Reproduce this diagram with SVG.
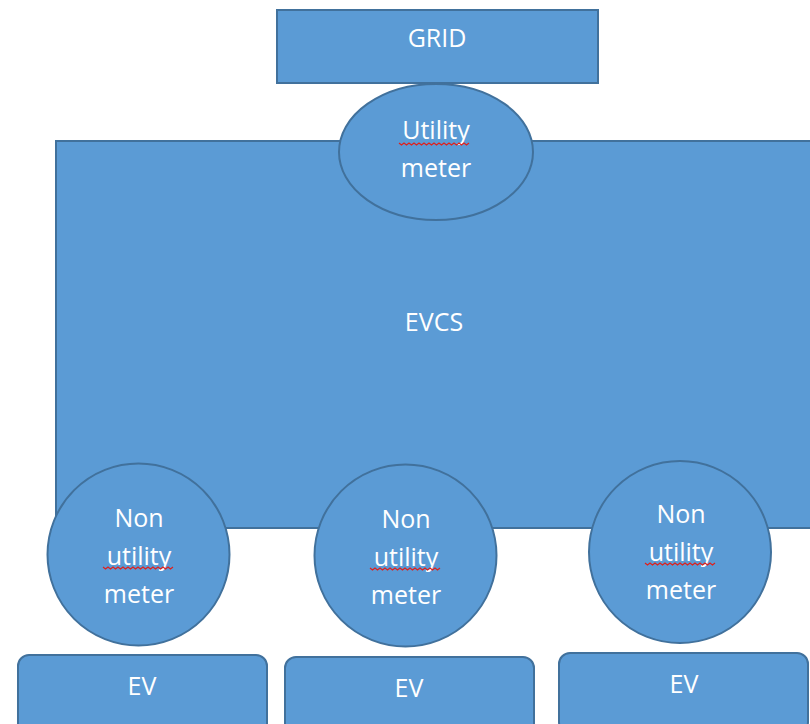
<svg xmlns="http://www.w3.org/2000/svg" width="810" height="724" viewBox="0 0 810 724">
<style>
.shape{fill:#5B9BD5;stroke:#41719C;stroke-width:2}
.lbl{font-family:"Open Sans","Liberation Sans",sans-serif;font-size:25px;fill:#FFFFFF;text-anchor:middle}
.spell{fill:none;stroke:#E0201B;stroke-width:1.2}
</style>
<rect width="810" height="724" fill="#FFFFFF"/>
<g id="evcs">
<rect class="shape" x="56" y="141" width="770" height="387"/>
<text class="lbl" x="434" y="331">EVCS</text>
</g>
<g id="grid">
<rect class="shape" x="277" y="10" width="321" height="73"/>
<text class="lbl" x="437" y="47">GRID</text>
</g>
<g id="utility-meter">
<ellipse class="shape" cx="436" cy="152" rx="97" ry="68"/>
<text class="lbl" x="436" y="139">Utility</text>
<text class="lbl" x="436" y="177">meter</text>
<path class="spell" d="M399 143 l2.5 2 l2.5 -2 l2.5 2 l2.5 -2 l2.5 2 l2.5 -2 l2.5 2 l2.5 -2 l2.5 2 l2.5 -2 l2.5 2 l2.5 -2 l2.5 2 l2.5 -2 l2.5 2 l2.5 -2 l2.5 2 l2.5 -2 l2.5 2 l2.5 -2 l2.5 2 l2.5 -2 l2.5 2 l2.5 -2 l2.5 2 l2.5 -2 l2.5 2 l2.5 -2"/>
</g>
<g id="meter1">
<circle class="shape" cx="138.5" cy="554.5" r="91"/>
<text class="lbl" x="139" y="527">Non</text>
<text class="lbl" x="139" y="565">utility</text>
<text class="lbl" x="139" y="603">meter</text>
<path class="spell" d="M103 567 l2.5 2 l2.5 -2 l2.5 2 l2.5 -2 l2.5 2 l2.5 -2 l2.5 2 l2.5 -2 l2.5 2 l2.5 -2 l2.5 2 l2.5 -2 l2.5 2 l2.5 -2 l2.5 2 l2.5 -2 l2.5 2 l2.5 -2 l2.5 2 l2.5 -2 l2.5 2 l2.5 -2 l2.5 2 l2.5 -2 l2.5 2 l2.5 -2 l2.5 2 l2.5 -2"/>
</g>
<g id="meter2">
<circle class="shape" cx="405.5" cy="555.5" r="91"/>
<text class="lbl" x="406" y="528">Non</text>
<text class="lbl" x="406" y="566">utility</text>
<text class="lbl" x="406" y="604">meter</text>
<path class="spell" d="M370 568 l2.5 2 l2.5 -2 l2.5 2 l2.5 -2 l2.5 2 l2.5 -2 l2.5 2 l2.5 -2 l2.5 2 l2.5 -2 l2.5 2 l2.5 -2 l2.5 2 l2.5 -2 l2.5 2 l2.5 -2 l2.5 2 l2.5 -2 l2.5 2 l2.5 -2 l2.5 2 l2.5 -2 l2.5 2 l2.5 -2 l2.5 2 l2.5 -2 l2.5 2 l2.5 -2"/>
</g>
<g id="meter3">
<circle class="shape" cx="680" cy="552" r="91"/>
<text class="lbl" x="681" y="523">Non</text>
<text class="lbl" x="681" y="561">utility</text>
<text class="lbl" x="681" y="599">meter</text>
<path class="spell" d="M645 563 l2.5 2 l2.5 -2 l2.5 2 l2.5 -2 l2.5 2 l2.5 -2 l2.5 2 l2.5 -2 l2.5 2 l2.5 -2 l2.5 2 l2.5 -2 l2.5 2 l2.5 -2 l2.5 2 l2.5 -2 l2.5 2 l2.5 -2 l2.5 2 l2.5 -2 l2.5 2 l2.5 -2 l2.5 2 l2.5 -2 l2.5 2 l2.5 -2 l2.5 2 l2.5 -2"/>
</g>
<g id="ev1">
<rect class="shape" x="18" y="655" width="249" height="80" rx="11"/>
<text class="lbl" x="142" y="695">EV</text>
</g>
<g id="ev2">
<rect class="shape" x="285" y="657" width="249" height="80" rx="11"/>
<text class="lbl" x="409" y="697">EV</text>
</g>
<g id="ev3">
<rect class="shape" x="559" y="653" width="249" height="80" rx="11"/>
<text class="lbl" x="684" y="693">EV</text>
</g>
<g id="connectors"></g>
</svg>
